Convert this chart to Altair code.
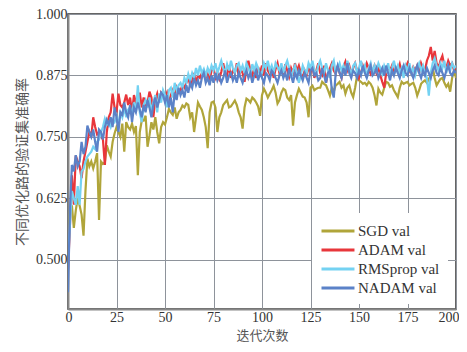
import altair as alt
import pandas as pd

series_names = ["SGD val", "ADAM val", "RMSprop val", "NADAM val"]
series_colors = ["#b0a53a", "#e8363b", "#74d2f2", "#5b82c8"]

sgd = [
    0.520, 0.600, 0.611, 0.565, 0.600, 0.626, 0.610, 0.592, 0.549, 0.640,
    0.706, 0.690, 0.700, 0.686, 0.700, 0.717, 0.581, 0.700, 0.695, 0.698,
    0.733, 0.720, 0.710, 0.740, 0.757, 0.770, 0.760, 0.750, 0.777, 0.720,
    0.780, 0.770, 0.765, 0.777, 0.760, 0.772, 0.672, 0.760, 0.783, 0.783,
    0.793, 0.730, 0.753, 0.780, 0.765, 0.790, 0.760, 0.737, 0.770, 0.780,
    0.775, 0.790, 0.807, 0.800, 0.795, 0.810, 0.787, 0.800, 0.805, 0.814,
    0.810, 0.818, 0.815, 0.790, 0.800, 0.760, 0.790, 0.820, 0.812, 0.805,
    0.790, 0.770, 0.727, 0.800, 0.820, 0.822, 0.810, 0.760, 0.790, 0.800,
    0.815, 0.820, 0.825, 0.810, 0.812, 0.818, 0.824, 0.815, 0.800, 0.790,
    0.767, 0.810, 0.828, 0.825, 0.820, 0.830, 0.826, 0.820, 0.812, 0.793,
    0.835, 0.848, 0.840, 0.830, 0.838, 0.845, 0.854, 0.840, 0.818, 0.825,
    0.840, 0.848, 0.845, 0.830, 0.825, 0.835, 0.773, 0.820, 0.835, 0.848,
    0.840, 0.832, 0.830, 0.820, 0.790, 0.850, 0.854, 0.845, 0.848, 0.850,
    0.850, 0.862, 0.858, 0.855, 0.845, 0.834, 0.850, 0.842, 0.855, 0.858,
    0.862, 0.850, 0.855, 0.838, 0.850, 0.855, 0.840, 0.831, 0.850, 0.874,
    0.865, 0.862, 0.858, 0.860, 0.855, 0.862, 0.858, 0.850, 0.835, 0.814,
    0.848, 0.840, 0.836, 0.850, 0.862, 0.860, 0.852, 0.855, 0.845, 0.838,
    0.831, 0.850, 0.862, 0.858, 0.860, 0.862, 0.855, 0.858, 0.860, 0.850,
    0.834, 0.845, 0.858, 0.862, 0.865, 0.860, 0.868, 0.875, 0.892, 0.870,
    0.855, 0.862, 0.868, 0.870, 0.860, 0.852, 0.858, 0.842, 0.870, 0.885,
    0.870,
]

adam = [
    0.480, 0.570, 0.672, 0.612, 0.712, 0.700, 0.690, 0.666, 0.700, 0.720,
    0.740, 0.760, 0.750, 0.790, 0.770, 0.755, 0.760, 0.750, 0.745, 0.693,
    0.760, 0.790, 0.800, 0.838, 0.810, 0.800, 0.838, 0.815, 0.810, 0.820,
    0.836, 0.815, 0.830, 0.800, 0.835, 0.820, 0.825, 0.840, 0.810, 0.830,
    0.815, 0.820, 0.842, 0.830, 0.790, 0.825, 0.838, 0.820, 0.840, 0.835,
    0.830, 0.840, 0.820, 0.835, 0.845, 0.830, 0.850, 0.840, 0.845, 0.855,
    0.850, 0.860, 0.870, 0.855, 0.865, 0.880, 0.860, 0.875, 0.870, 0.880,
    0.885, 0.870, 0.878, 0.865, 0.885, 0.890, 0.870, 0.880, 0.868, 0.882,
    0.900, 0.880, 0.875, 0.895, 0.870, 0.885, 0.880, 0.900, 0.872, 0.888,
    0.880, 0.862, 0.890, 0.905, 0.885, 0.875, 0.890, 0.870, 0.892, 0.880,
    0.895, 0.875, 0.900, 0.885, 0.878, 0.892, 0.870, 0.888, 0.900, 0.880,
    0.890, 0.875, 0.898, 0.885, 0.872, 0.890, 0.880, 0.900, 0.885, 0.895,
    0.880, 0.870, 0.885, 0.875, 0.890, 0.882, 0.895, 0.870, 0.885, 0.900,
    0.880, 0.875, 0.895, 0.860, 0.880, 0.890, 0.900, 0.885, 0.878, 0.895,
    0.880, 0.870, 0.892, 0.903, 0.885, 0.895, 0.878, 0.890, 0.900, 0.885,
    0.870, 0.880, 0.895, 0.885, 0.900, 0.890, 0.878, 0.885, 0.895, 0.880,
    0.890, 0.875, 0.862, 0.850, 0.880, 0.892, 0.885, 0.895, 0.880, 0.890,
    0.885, 0.898, 0.880, 0.875, 0.890, 0.900, 0.885, 0.878, 0.892, 0.885,
    0.895, 0.880, 0.900, 0.890, 0.885, 0.905, 0.915, 0.933, 0.905, 0.925,
    0.900, 0.890, 0.905, 0.915, 0.895, 0.890, 0.905, 0.895, 0.900, 0.885,
    0.895,
]

rmsprop = [
    0.500, 0.571, 0.640, 0.625, 0.612, 0.650, 0.612, 0.680, 0.685, 0.700,
    0.710, 0.715, 0.720, 0.730, 0.725, 0.740, 0.745, 0.760, 0.770, 0.787,
    0.775, 0.780, 0.770, 0.785, 0.780, 0.790, 0.775, 0.800, 0.790, 0.810,
    0.790, 0.805, 0.810, 0.795, 0.820, 0.800, 0.855, 0.800, 0.780, 0.815,
    0.825, 0.810, 0.830, 0.800, 0.820, 0.835, 0.800, 0.838, 0.820, 0.845,
    0.835, 0.810, 0.845, 0.850, 0.830, 0.860, 0.845, 0.855, 0.860, 0.850,
    0.870, 0.860, 0.878, 0.865, 0.880, 0.870, 0.890, 0.875, 0.895, 0.880,
    0.888, 0.875, 0.890, 0.880, 0.895, 0.885, 0.900, 0.880, 0.892, 0.905,
    0.890, 0.880, 0.898, 0.885, 0.905, 0.890, 0.880, 0.895, 0.900, 0.885,
    0.895, 0.880, 0.900, 0.890, 0.878, 0.898, 0.885, 0.900, 0.890, 0.875,
    0.880, 0.900, 0.890, 0.905, 0.885, 0.895, 0.880, 0.900, 0.892, 0.885,
    0.900, 0.880, 0.895, 0.905, 0.890, 0.870, 0.885, 0.895, 0.880, 0.860,
    0.875, 0.895, 0.885, 0.880, 0.900, 0.890, 0.905, 0.885, 0.878, 0.895,
    0.905, 0.890, 0.880, 0.900, 0.885, 0.870, 0.895, 0.905, 0.880, 0.890,
    0.900, 0.885, 0.895, 0.880, 0.905, 0.890, 0.875, 0.895, 0.900, 0.880,
    0.890, 0.905, 0.885, 0.895, 0.870, 0.890, 0.900, 0.880, 0.895, 0.885,
    0.900, 0.890, 0.878, 0.895, 0.885, 0.900, 0.880, 0.890, 0.905, 0.885,
    0.895, 0.880, 0.890, 0.870, 0.895, 0.885, 0.900, 0.880, 0.890, 0.875,
    0.890, 0.900, 0.885, 0.895, 0.880, 0.870, 0.834, 0.880, 0.900, 0.910,
    0.895, 0.885, 0.900, 0.890, 0.905, 0.880, 0.895, 0.885, 0.900, 0.890,
    0.895,
]

nadam = [
    0.434, 0.600, 0.693, 0.680, 0.713, 0.690, 0.700, 0.740, 0.715, 0.730,
    0.773, 0.760, 0.750, 0.765, 0.740, 0.720, 0.765, 0.760, 0.745, 0.770,
    0.785, 0.775, 0.790, 0.770, 0.810, 0.790, 0.760, 0.800, 0.795, 0.820,
    0.800, 0.790, 0.815, 0.780, 0.810, 0.800, 0.820, 0.805, 0.790, 0.815,
    0.800, 0.825, 0.810, 0.790, 0.815, 0.830, 0.810, 0.825, 0.840, 0.835,
    0.820, 0.835, 0.810, 0.830, 0.800, 0.840, 0.825, 0.850, 0.835, 0.845,
    0.830, 0.855, 0.840, 0.860, 0.850, 0.870, 0.855, 0.865, 0.850, 0.870,
    0.880, 0.860, 0.870, 0.855, 0.875, 0.860, 0.880, 0.865, 0.875, 0.860,
    0.870, 0.885, 0.860, 0.875, 0.880, 0.865, 0.875, 0.860, 0.880, 0.870,
    0.860, 0.875, 0.885, 0.870, 0.880, 0.860, 0.875, 0.885, 0.865, 0.880,
    0.870, 0.860, 0.880, 0.875, 0.865, 0.885, 0.880, 0.870, 0.860, 0.875,
    0.885, 0.870, 0.880, 0.865, 0.890, 0.875, 0.860, 0.880, 0.870, 0.885,
    0.875, 0.865, 0.880, 0.870, 0.860, 0.885, 0.890, 0.875, 0.880, 0.865,
    0.870, 0.890, 0.875, 0.860, 0.880, 0.885, 0.845, 0.830, 0.880, 0.895,
    0.880, 0.870, 0.890, 0.875, 0.900, 0.880, 0.870, 0.885, 0.880, 0.870,
    0.885, 0.875, 0.895, 0.880, 0.870, 0.885, 0.895, 0.875, 0.880, 0.890,
    0.870, 0.880, 0.890, 0.875, 0.895, 0.880, 0.865, 0.885, 0.875, 0.890,
    0.880, 0.870, 0.885, 0.895, 0.880, 0.875, 0.890, 0.880, 0.870, 0.885,
    0.895, 0.880, 0.870, 0.885, 0.875, 0.890, 0.880, 0.870, 0.885, 0.895,
    0.880, 0.875, 0.890, 0.880, 0.870, 0.885, 0.895, 0.880, 0.875, 0.885,
    0.880,
]

x_ticks = [0, 25, 50, 75, 100, 125, 150, 175, 200]
y_ticks = [0.500, 0.625, 0.750, 0.875, 1.000]

rows = []
for k, (name, vals) in enumerate(zip(series_names, [sgd, adam, rmsprop, nadam])):
    for i, v in enumerate(vals):
        rows.append({"epoch": i, "acc": v, "series": name, "order": k})
df = pd.DataFrame(rows)

serif = "Liberation Serif, Times New Roman, serif"
cjk = "Noto Sans CJK SC"

chart = alt.Chart(df).mark_line(strokeWidth=2.2, clip=True).encode(
    x=alt.X("epoch:Q",
            scale=alt.Scale(domain=[0, 200], nice=False, zero=False),
            axis=alt.Axis(values=x_ticks, title="迭代次数", format="d",
                          labelFlush=True, labelFlushOffset=3)),
    y=alt.Y("acc:Q",
            scale=alt.Scale(domain=[0.4, 1.0], nice=False, zero=False),
            axis=alt.Axis(values=y_ticks, title="不同优化路的验证集准确率", format=".3f",
                          labelFlush=False)),
    color=alt.Color("series:N",
                    scale=alt.Scale(domain=series_names, range=series_colors),
                    sort=series_names,
                    legend=alt.Legend(title=None, orient="none", legendX=244, legendY=199,
                                      symbolType="M-1,0H2.88", symbolSize=289,
                                      symbolStrokeWidth=3, labelFont=serif,
                                      labelFontSize=15, labelColor="#333333",
                                      rowPadding=1, labelOffset=18,
                                      fillColor="white", padding=8)),
    order=alt.Order("order:Q"),
    detail="series:N",
).properties(
    width=388, height=295,
    autosize=alt.AutoSizeParams(type="none"),
    padding={"left": 60, "top": 6, "right": 3, "bottom": 35},
).configure_view(
    stroke="#333333", strokeWidth=1.5
).configure_axis(
    grid=True, gridColor="#8e939b", gridWidth=1,
    domainColor="#888888", domainWidth=2,
    ticks=False,
    labelFont=serif, labelFontSize=14, labelColor="#333333",
    titleFont=cjk, titleFontSize=14, titleFontWeight="normal", titleColor="#555555",
).configure_axisX(
    labelPadding=1, titlePadding=5, titleFontSize=13,
).configure_axisY(
    labelPadding=1, titlePadding=6,
)

chart.save("out.html", embed_options={"renderer": "svg", "actions": False})
